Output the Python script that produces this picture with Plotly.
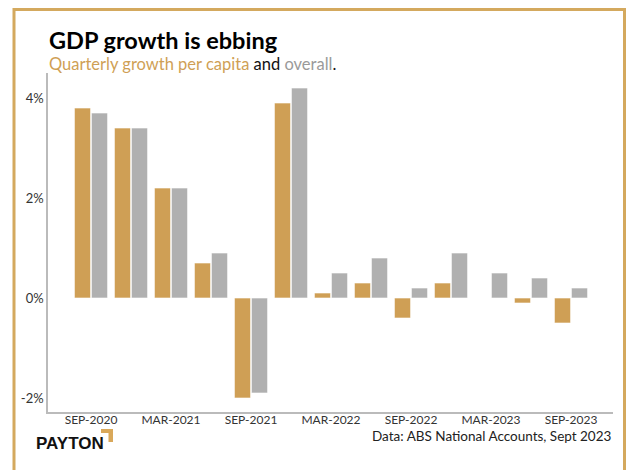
import plotly.graph_objects as go

# Quarterly GDP growth, % change on previous quarter
quarters = ["SEP-2020", "DEC-2020", "MAR-2021", "JUN-2021", "SEP-2021", "DEC-2021",
            "MAR-2022", "JUN-2022", "SEP-2022", "DEC-2022", "MAR-2023", "JUN-2023", "SEP-2023"]
per_capita = [3.8, 3.4, 2.2, 0.7, -2.0, 3.9, 0.1, 0.3, -0.4, 0.3, 0.0, -0.1, -0.5]
overall = [3.7, 3.4, 2.2, 0.9, -1.9, 4.2, 0.5, 0.8, 0.2, 0.9, 0.5, 0.4, 0.2]
tick_labels = ["SEP-2020", "MAR-2021", "SEP-2021", "MAR-2022", "SEP-2022", "MAR-2023", "SEP-2023"]
y_ticks = [-2, 0, 2, 4]
y_tick_text = ["-2%", "0%", "2%", "4%"]

GOLD = "#CF9F55"
GREY = "#B0B0B0"
FRAME = "#D4A95E"
FONT = "Lato"

W, H = 626, 470
L, R, T, B = 48, 13, 73, 58
PW, PH = W - L - R, H - T - B


def px(x):
    return (x - L) / PW


def py(y):
    return (H - B - y) / PH


fig = go.Figure()
fig.add_trace(go.Bar(x=quarters, y=per_capita, name="Per capita",
                     marker=dict(color=GOLD, line=dict(color="rgba(255,255,255,0.6)", width=1))))
fig.add_trace(go.Bar(x=quarters, y=overall, name="Overall",
                     marker=dict(color=GREY, line=dict(color="rgba(255,255,255,0.6)", width=1))))

shapes = [
    # outer frame
    dict(type="rect", xref="paper", yref="paper",
         x0=px(14), x1=px(624.5), y0=py(9.5), y1=py(490),
         line=dict(color=FRAME, width=3), fillcolor="rgba(0,0,0,0)", layer="below"),
    # logo corner mark
    dict(type="path", xref="paper", yref="paper",
         path=f"M {px(101)} {py(429)} L {px(113)} {py(429)} L {px(113)} {py(442)} "
              f"L {px(108.5)} {py(442)} L {px(108.5)} {py(433)} L {px(101)} {py(433)} Z",
         line=dict(width=0), fillcolor="#D9A85A"),
]

annotations = [
    dict(text="<b>GDP growth is ebbing</b>", xref="paper", yref="paper",
         x=px(47), y=py(39.5), xanchor="left", yanchor="middle", showarrow=False,
         font=dict(family=FONT, size=23.5, color="#000000")),
    dict(text=f"<span style='color:{GOLD}'>Quarterly growth per capita</span>"
              f"<span style='color:#111111'> and </span>"
              f"<span style='color:#9a9a9a'>overall</span><span style='color:#111111'>.</span>",
         xref="paper", yref="paper", x=px(47), y=py(64.5), xanchor="left", yanchor="middle",
         showarrow=False, font=dict(family=FONT, size=16.5)),
    dict(text="Data: ABS National Accounts, Sept 2023", xref="paper", yref="paper",
         x=px(614), y=py(436), xanchor="right", yanchor="middle", showarrow=False,
         font=dict(family=FONT, size=13.5, color="#222222")),
    dict(text="<b>PAYTON</b>", xref="paper", yref="paper",
         x=px(34), y=py(443), xanchor="left", yanchor="middle", showarrow=False,
         font=dict(family="Liberation Sans", size=17, color="#111111")),
]

fig.update_layout(
    width=W, height=H,
    margin=dict(l=L, r=R, t=T, b=B),
    paper_bgcolor="white", plot_bgcolor="white",
    barmode="group", bargap=0.15, bargroupgap=0.05,
    showlegend=False,
    shapes=shapes, annotations=annotations,
    font=dict(family=FONT, size=13, color="#333333"),
)
fig.update_xaxes(type="category", range=[-1.075, 13.05],
                 tickmode="array", tickvals=tick_labels, ticktext=tick_labels,
                 showline=True, linecolor="#BBBBBB", linewidth=1.5,
                 ticks="", showgrid=False, ticklabelstandoff=-4,
                 tickfont=dict(size=12, color="#333333"))
fig.update_yaxes(range=[-2.28, 4.5], tickmode="array", tickvals=y_ticks, ticktext=y_tick_text,
                 showline=True, linecolor="#BBBBBB", linewidth=1.5, ticks="",
                 showgrid=False, zeroline=False, ticklabelstandoff=0,
                 tickfont=dict(size=13, color="#333333"))

fig.write_html("out.html")
